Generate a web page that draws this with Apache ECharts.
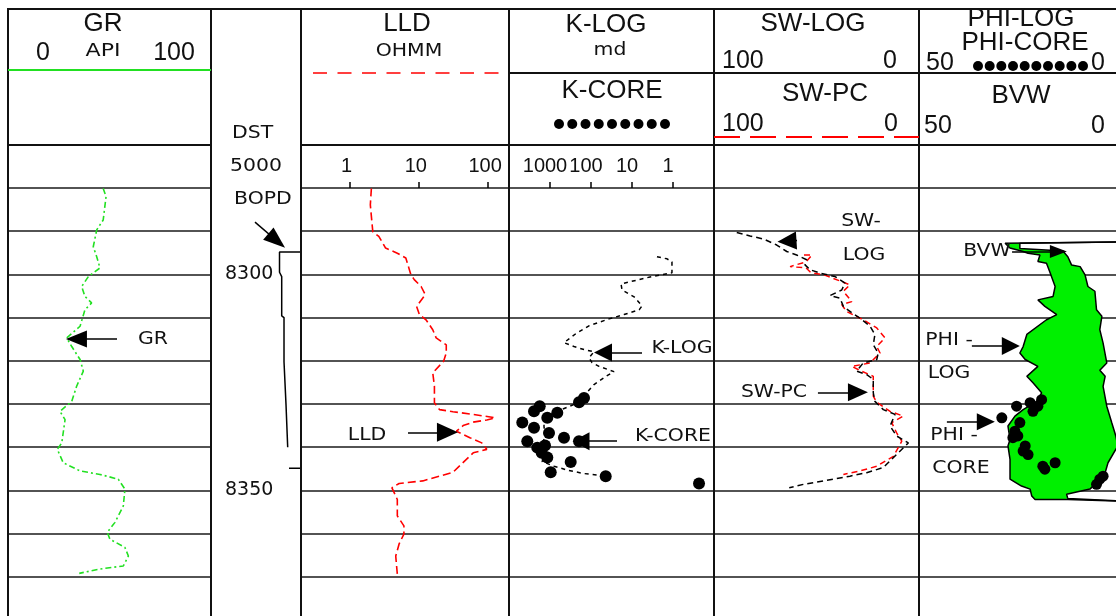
<!DOCTYPE html>
<html><head><meta charset="utf-8">
<script src="https://cdn.jsdelivr.net/npm/echarts@6/dist/echarts.min.js"></script>
<style>html,body{margin:0;padding:0;background:#fff}#c{width:1116px;height:616px}</style>
</head><body><div id="c"></div>
<script>
// ---------------- DATA ----------------
const depthTicks = [8300, 8350];

const grDepth = [8280.1,8282.0,8287.4,8289.7,8293.6,8295.9,8298.5,8300.5,8302.8,8305.1,8306.6,8308.2,8312.0,8314.7,8316.7,8319.7,8322.4,8325.9,8329.4,8331.7,8333.6,8339.0,8340.5,8343.6,8345.5,8346.3,8347.4,8349.7,8353.6,8357.4,8359.7,8361.3,8363.2,8365.2,8367.5,8368.2,8369.2];
const grApi   = [46.9,48.3,46.9,43.7,42.0,43.7,45.3,39.6,36.3,37.9,41.2,37.9,35.5,28.9,31.4,35.5,37.1,33.8,31.4,25.6,28.1,26.5,24.3,27.2,35.5,45.3,54.3,57.6,56.8,52.7,48.9,50.2,57.6,59.3,56.8,45.3,35.1];

const dstDepth = [8294.8,8294.8,8299.5,8300.5,8309.6,8310.0,8320.2,8320.6,8330.1,8330.5,8340.0,null,8344.9,8344.9];
const dstBopd  = [0,1194,1194,1072,1072,944,944,833,833,739,739,null,667,0];

const lldDepth = [8280.1,8283.9,8290.1,8291.2,8293.9,8295.1,8296.2,8300.1,8301.2,8302.8,8304.7,8307.4,8309.3,8310.5,8312.8,8314.7,8316.3,8318.2,8320.1,8322.8,8325.9,8329.7,8331.3,8331.8,8332.4,8333.2,8333.7,8334.2,8335.0,8336.3,8337.8,8339.0,8340.5,8341.3,8345.8,8346.7,8347.8,8348.4,8349.4,8352.1,8355.9,8358.2,8360.1,8362.4,8365.2,8369.4];
const lldOhmm  = [2.07,2.0,2.17,2.65,3.32,4.9,6.5,7.7,8.6,10.8,12.4,9.3,10.2,12.7,15.9,17.8,24.9,24.9,22.8,15.9,16.8,16.8,19.9,31.1,61,126,95.7,61,43.6,34.9,54.6,80.9,95.7,61,31.1,19.9,11.4,5.2,4.1,4.9,4.9,6.1,6.1,5.2,4.65,4.9];

const kLogDepth = [8295.9,8296.4,8297.1,8299.6,8300.6,8302.2,8303.6,8305.2,8307.3,8308.2,8309.3,8310.3,8311.9,8313.7,8315.8,8316.7,8317.4,8317.9,8319.3,8320.4,8321.3,8322.5,8323.6,8325.5,8327.3,8329.0,8330.3,8331.5,8333.1,8335.4,8337.3,8338.9,8341.0,8343.3,8344.4,8345.4,8346.1,8346.5,8346.7];
const kLogMd    = [2.46,1.40,1.06,1.06,3.64,18.5,17.5,8.9,5.7,6.7,15.7,36.4,112,232,456,260,148,84.5,112,94.6,63.8,27.5,43.1,84.5,125,166,290,603,1400,1400,1183,1567,1058,1567,798,344,148,63.8,43.1];

const kCoreDepth = [8328.6,8329.6,8330.5,8331.7,8332.0,8333.2,8334.3,8335.5,8336.7,8337.8,8338.6,8338.6,8340.1,8339.6,8341.3,8342.4,8343.4,8345.8,8346.7,8348.4];
const kCoreMd    = [148,196,1782,2455,664,1164,4742,2455,1058,456,196,3581,2042,1324,1593,1164,313,961,43.8,0.232];

const swLogDepth = [8290.3,8291.1,8291.8,8293.2,8294.7,8295.5,8296.6,8297.8,8298.9,8299.7,8300.5,8302.0,8303.6,8304.9,8305.5,8307.4,8308.9,8310.1,8312.0,8313.9,8316.3,8318.2,8319.7,8320.5,8322.4,8323.2,8324.3,8327.4,8329.4,8331.3,8332.4,8335.1,8337.4,8339.0,8341.3,8344.7,8345.9,8346.7,8347.8,8348.6,8349.4];
const swLogPct   = [88.9,82.4,75.9,69.4,64.5,59.7,54.8,55.6,53.2,48.3,41.0,36.1,37.7,43.4,38.5,36.9,32.8,28.8,23.9,21.5,22.3,19.9,20.6,27.2,30.4,25.5,22.3,22.3,21.5,17.4,11.7,14.1,10.9,5.2,10.1,17.4,25.5,33.7,46.7,56.4,63.3];

const swPcDepth = [8295.5,8295.5,8297.1,8298.2,8298.5,8299.6,8300.1,8302.4,8303.9,8306.3,8307.0,8308.6,8310.5,8312.4,8314.7,8316.7,8318.2,8320.5,8321.3,8322.4,8323.6,8328.2,8329.6,8331.7,8332.8,8334.3,8336.7,8338.6,8342.1,8344.4,8345.5,8346.3];
const swPcPct   = [56.1,52.2,55.1,62.9,55.1,52.7,46.3,33.7,36.9,32.8,37.7,35.3,27.2,20.6,16.6,20.6,19.0,23.9,32.8,28.0,22.3,22.3,20.6,14.1,7.7,13.3,10.9,8.4,12.5,20.6,28.8,36.9];

const phiLogDepth = [8292.5,8292.8,8293.9,8294.7,8295.1,8295.5,8297.0,8297.4,8299.7,8302.8,8305.1,8305.9,8307.4,8309.3,8310.5,8313.9,8316.7,8318.2,8319.7,8321.3,8323.6,8325.1,8327.4,8329.4,8331.3,8332.8,8335.1,8338.2,8339.7,8342.8,8345.9,8347.4,8349.0,8349.7,8351.3,8352.1,8352.1,8352.5];
const phiLogPct   = [0,29.0,27.8,24.6,23.4,20.5,21.0,18.9,18.0,16.8,17.3,21.0,19.3,16.4,18.9,23.7,24.6,25.4,24.1,21.0,23.7,22.2,20.1,21.3,24.6,26.6,28.3,27.8,28.3,27.8,27.8,27.8,25.0,22.9,22.5,21.7,13.7,0];

const bvwDepth = [8292.5,8292.8,8294.0,8294.6,8295.9,8297.8,8298.2,8300.1,8302.8,8303.9,8308.2,8309.7,8312.8,8315.9,8320.5,8322.2,8323.6,8325.9,8330.5,8334.3,8337.4,8339.7,8343.6,8345.9,8348.2,8349.7,8350.9,8351.9,8352.5];
const bvwPct   = [0,25.4,25.4,14.9,13.7,12.8,10.7,9.5,8.8,7.1,6.7,5.4,5.9,5.1,4.2,5.9,4.6,5.1,4.2,3.0,2.0,1.5,3.9,4.6,6.7,8.3,14.0,13.7,0];

const phiCoreDepth = [8329.0,8330.5,8331.7,8329.7,8330.5,8333.2,8334.3,8336.3,8337.8,8337.4,8340.9,8339.7,8341.7,8344.4,8343.6,8345.1,8347.4,8346.7,8348.6];
const phiCorePct   = [20.1,21.0,22.2,22.9,26.2,29.8,25.4,26.6,27.1,25.9,24.6,24.1,23.4,19.8,16.8,19.3,5.9,5.1,6.7];

// ---------------- LAYOUT ----------------
const TOP = 188, H = 432;
const tracks = [{l:8,w:203},{l:211,w:90},{l:301,w:208},{l:509,w:205},{l:714,w:205},{l:919,w:205}];
const BIG = '"Liberation Sans", Arial, sans-serif';
const SMALL = '"DejaVu Sans", sans-serif';
const INK = '#111';

const pairs = (xs, ys) => xs.map((x, i) => (x == null ? ['-', '-'] : [x, ys[i]]));

function txt(text, x, y, size, family, align, sx) {
  return {type:'text', x, y, scaleX: sx || 1, silent:true, z:60,
    style:{text, fill:INK, font: size + 'px ' + family,
      textAlign: align || 'center', align: align || 'center',
      textVerticalAlign:'middle', verticalAlign:'middle'}};
}
function ln(x1, y1, x2, y2, extra) {
  return Object.assign({type:'line', silent:true, z:50,
    shape:{x1, y1, x2, y2}, style:Object.assign({stroke:INK, lineWidth:2}, extra || {})});
}
function dot(cx, cy, r) {
  return {type:'circle', silent:true, z:60, shape:{cx, cy, r}, style:{fill:'#000'}};
}

const els = [];
// frame
els.push(ln(7, 9, 1116, 9));
[8, 211, 301, 509, 714, 919].forEach(x => els.push(ln(x, 9, x, 616)));
els.push(ln(509, 73, 1116, 73));
els.push(ln(8, 145, 211, 145));
els.push(ln(301, 145, 1116, 145));
// legend strokes
els.push(ln(8, 70, 211, 70, {stroke:'#22e022', lineWidth:2}));
els.push(ln(313, 73, 509, 73, {stroke:'#ff0000', lineWidth:1.6, lineDash:[14, 10.5]}));
els.push(ln(714, 137, 919, 137, {stroke:'#ff0000', lineWidth:1.8, lineDash:[26, 10]}));
for (let i = 0; i < 9; i++) els.push(dot(559 + 13.25 * i, 124, 5));
for (let i = 0; i < 10; i++) els.push(dot(978 + 11.67 * i, 66, 5));
// header titles
const S = 1.2;
els.push(txt('GR', 103, 24, 26, BIG));
els.push(txt('0', 43, 53, 25, BIG));
els.push(txt('API', 103, 52, 17, SMALL, 'center', 1.3));
els.push(txt('100', 174, 53, 25, BIG));
els.push(txt('LLD', 407, 24, 26, BIG));
els.push(txt('OHMM', 409, 52, 17, SMALL, 'center', S));
els.push(txt('K-LOG', 606, 25, 26, BIG));
els.push(txt('md', 610, 51, 17, SMALL, 'center', S));
els.push(txt('K-CORE', 612, 91, 26, BIG));
els.push(txt('SW-LOG', 813, 24, 26, BIG));
els.push(txt('100', 722, 61, 25, BIG, 'left'));
els.push(txt('0', 897, 61, 25, BIG, 'right'));
els.push(txt('SW-PC', 825, 94, 26, BIG));
els.push(txt('100', 722, 124, 25, BIG, 'left'));
els.push(txt('0', 898, 124, 25, BIG, 'right'));
els.push(txt('PHI-LOG', 1021, 19, 26, BIG));
els.push(txt('PHI-CORE', 1025, 43, 26, BIG));
els.push(txt('50', 926, 63, 25, BIG, 'left'));
els.push(txt('0', 1105, 63, 25, BIG, 'right'));
els.push(txt('BVW', 1021, 96, 26, BIG));
els.push(txt('50', 924, 126, 25, BIG, 'left'));
els.push(txt('0', 1105, 126, 25, BIG, 'right'));
els.push(txt('DST', 232, 134, 17, SMALL, 'left', S));
els.push(txt('5000', 230, 167, 17, SMALL, 'left', S));
els.push(txt('BOPD', 234, 200, 17, SMALL, 'left', S));
// annotation labels
els.push(txt('GR', 153, 340, 17, SMALL, 'center', S));
els.push(txt('LLD', 367, 436, 17, SMALL, 'center', S));
els.push(txt('K-LOG', 682, 349, 17, SMALL, 'center', S));
els.push(txt('K-CORE', 673, 437, 17, SMALL, 'center', S));
els.push(txt('SW-', 861, 222, 17, SMALL, 'center', S));
els.push(txt('LOG', 864, 256, 17, SMALL, 'center', S));
els.push(txt('SW-PC', 774, 393, 17, SMALL, 'center', S));
els.push(txt('BVW', 987, 252, 17, SMALL, 'center', S));
els.push(txt('PHI -', 949, 341, 17, SMALL, 'center', S));
els.push(txt('LOG', 949, 374, 17, SMALL, 'center', S));
els.push(txt('PHI -', 954, 436, 17, SMALL, 'center', S));
els.push(txt('CORE', 961, 469, 17, SMALL, 'center', S));

// ---------------- AXES ----------------
const grids = tracks.map(t => ({left:t.l, top:TOP, width:t.w, height:H, show:false, containLabel:false, outerBoundsMode:'none'}));

const yAxes = tracks.map((t, i) => ({
  gridIndex:i, type:'value', inverse:true, min:8280, max:8380, interval:10,
  axisLine:{show:false}, axisTick:{show:false},
  axisLabel: i === 1 ? {show:true, inside:true, margin:14, fontFamily:SMALL, fontSize:19, color:INK,
      padding:[0,0,4,0],
      formatter: v => (depthTicks.indexOf(v) >= 0 ? String(v) : '')} : {show:false},
  splitLine:{show: i !== 1, lineStyle:{color:'#1a1a1a', width:1.6}}
}));

const powLabel = (lo, hi) => v => {
  const l = Math.log10(v);
  return (Math.abs(l - Math.round(l)) < 1e-6 && v >= lo && v <= hi) ? String(Math.round(v)) : '';
};
const logAxisCommon = {
  position:'top', axisLine:{show:false}, splitLine:{show:false},
  axisTick:{show:true, inside:false, length:6, lineStyle:{color:'#000', width:1.5}}
};
const xAxes = [
  {gridIndex:0, type:'value', min:0, max:100, show:false},
  {gridIndex:1, type:'value', min:0, max:5000, inverse:true, show:false},
  Object.assign({gridIndex:2, type:'log', logBase:10, min:0.2, max:200,
    axisLabel:{fontFamily:BIG, fontSize:20, color:INK, margin:12, padding:[0,6,0,0], formatter:powLabel(1, 100)}}, logAxisCommon),
  Object.assign({gridIndex:3, type:'log', logBase:10, min:0.1, max:10000, inverse:true,
    axisLabel:{fontFamily:BIG, fontSize:20, color:INK, margin:12, padding:[0,10,0,0], formatter:powLabel(1, 1000)}}, logAxisCommon),
  {gridIndex:4, type:'value', min:0, max:100, inverse:true, show:false},
  {gridIndex:5, type:'value', min:0, max:50, inverse:true, show:false}
];

// ---------------- ANNOTATION ARROWS ----------------
const HEAD = [17, 20];
function arrow(from, to, head) {
  return [{coord:from, symbol:'none'}, {coord:to, symbol:'triangle', symbolSize: head || HEAD}];
}
function marks(list) {
  return {silent:true, animation:false, symbol:['none','triangle'], label:{show:false},
    lineStyle:{color:'#000', width:1.5, type:'solid'}, itemStyle:{color:'#000'},
    emphasis:{disabled:true}, data:list};
}

// ---------------- SERIES ----------------
const lineBase = {type:'line', showSymbol:false, symbol:'none', silent:true, connectNulls:false, z:3};
const series = [
  Object.assign({}, lineBase, {name:'GR', xAxisIndex:0, yAxisIndex:0, data:pairs(grApi, grDepth),
    lineStyle:{color:'#22e022', width:1.6, type:[6,3,2,3]},
    markLine: marks([arrow([53.7, 8314.95], [33.7, 8314.95], [17, 21])])}),
  Object.assign({}, lineBase, {name:'DST', xAxisIndex:1, yAxisIndex:1, data:pairs(dstBopd, dstDepth),
    lineStyle:{color:'#000', width:1.5},
    markLine: marks([arrow([2556, 8287.9], [1350, 8292.2], [16, 22])])}),
  Object.assign({}, lineBase, {name:'LLD', xAxisIndex:2, yAxisIndex:2, data:pairs(lldOhmm, lldDepth),
    lineStyle:{color:'#ff0000', width:1.6, type:[8,4]},
    markLine: marks([arrow([6.99, 8336.55], [25.9, 8336.55], [19, 21])])}),
  Object.assign({}, lineBase, {name:'K-LOG', xAxisIndex:3, yAxisIndex:3, data:pairs(kLogMd, kLogDepth),
    lineStyle:{color:'#000', width:1.5, type:[4,4]},
    markLine: marks([arrow([5.70, 8318.1], [50.97, 8318.1], [18, 18]), arrow([23.2, 8338.6], [175.4, 8338.6], [18, 17])])}),
  {type:'scatter', name:'K-CORE', xAxisIndex:3, yAxisIndex:3, silent:true, z:4, symbol:'circle', symbolSize:12,
    itemStyle:{color:'#000', opacity:1}, data:pairs(kCoreMd, kCoreDepth)},
  Object.assign({}, lineBase, {name:'SW-PC', xAxisIndex:4, yAxisIndex:4, data:pairs(swPcPct, swPcDepth),
    lineStyle:{color:'#ff0000', width:1.5, type:[6,4]}}),
  Object.assign({}, lineBase, {name:'SW-LOG', xAxisIndex:4, yAxisIndex:4, data:pairs(swLogPct, swLogDepth),
    lineStyle:{color:'#000', width:1.5, type:[6,4]},
    markLine: marks([arrow([59.5, 8292.15], [64.4, 8292.3], [18, 19]), arrow([49.3, 8327.3], [29.8, 8327.3], [18, 20])])}),
  {type:'custom', name:'HC fill', xAxisIndex:5, yAxisIndex:5, silent:true, z:2, data:[[25, 8320]],
    renderItem: function (params, api) {
      const pts = [];
      for (let i = 0; i < phiLogPct.length; i++) pts.push(api.coord([phiLogPct[i], phiLogDepth[i]]));
      for (let i = bvwPct.length - 1; i >= 0; i--) pts.push(api.coord([bvwPct[i], bvwDepth[i]]));
      return {type:'polygon', shape:{points:pts}, style:{fill:'#00f000', stroke:null}};
    }},
  Object.assign({}, lineBase, {name:'PHI-LOG', xAxisIndex:5, yAxisIndex:5, data:pairs(phiLogPct, phiLogDepth),
    lineStyle:{color:'#000', width:1.5},
    markLine: marks([arrow([27.3, 8294.7], [16.0, 8294.7], [13, 17]), arrow([37.1, 8316.6], [27.6, 8316.6], [18, 18]), arrow([43.2, 8334.1], [33.7, 8334.1], [17, 18])])}),
  Object.assign({}, lineBase, {name:'BVW', xAxisIndex:5, yAxisIndex:5, data:pairs(bvwPct, bvwDepth),
    lineStyle:{color:'#000', width:1.5}}),
  {type:'scatter', name:'PHI-CORE', xAxisIndex:5, yAxisIndex:5, silent:true, z:4, symbol:'circle', symbolSize:11,
    itemStyle:{color:'#000', opacity:1}, data:pairs(phiCorePct, phiCoreDepth)}
];

const chart = echarts.init(document.getElementById('c'), null, {renderer:'canvas'});
chart.setOption({
  animation:false,
  backgroundColor:'#fff',
  grid:grids, xAxis:xAxes, yAxis:yAxes, series:series,
  graphic:{elements:els}
});
</script></body></html>
